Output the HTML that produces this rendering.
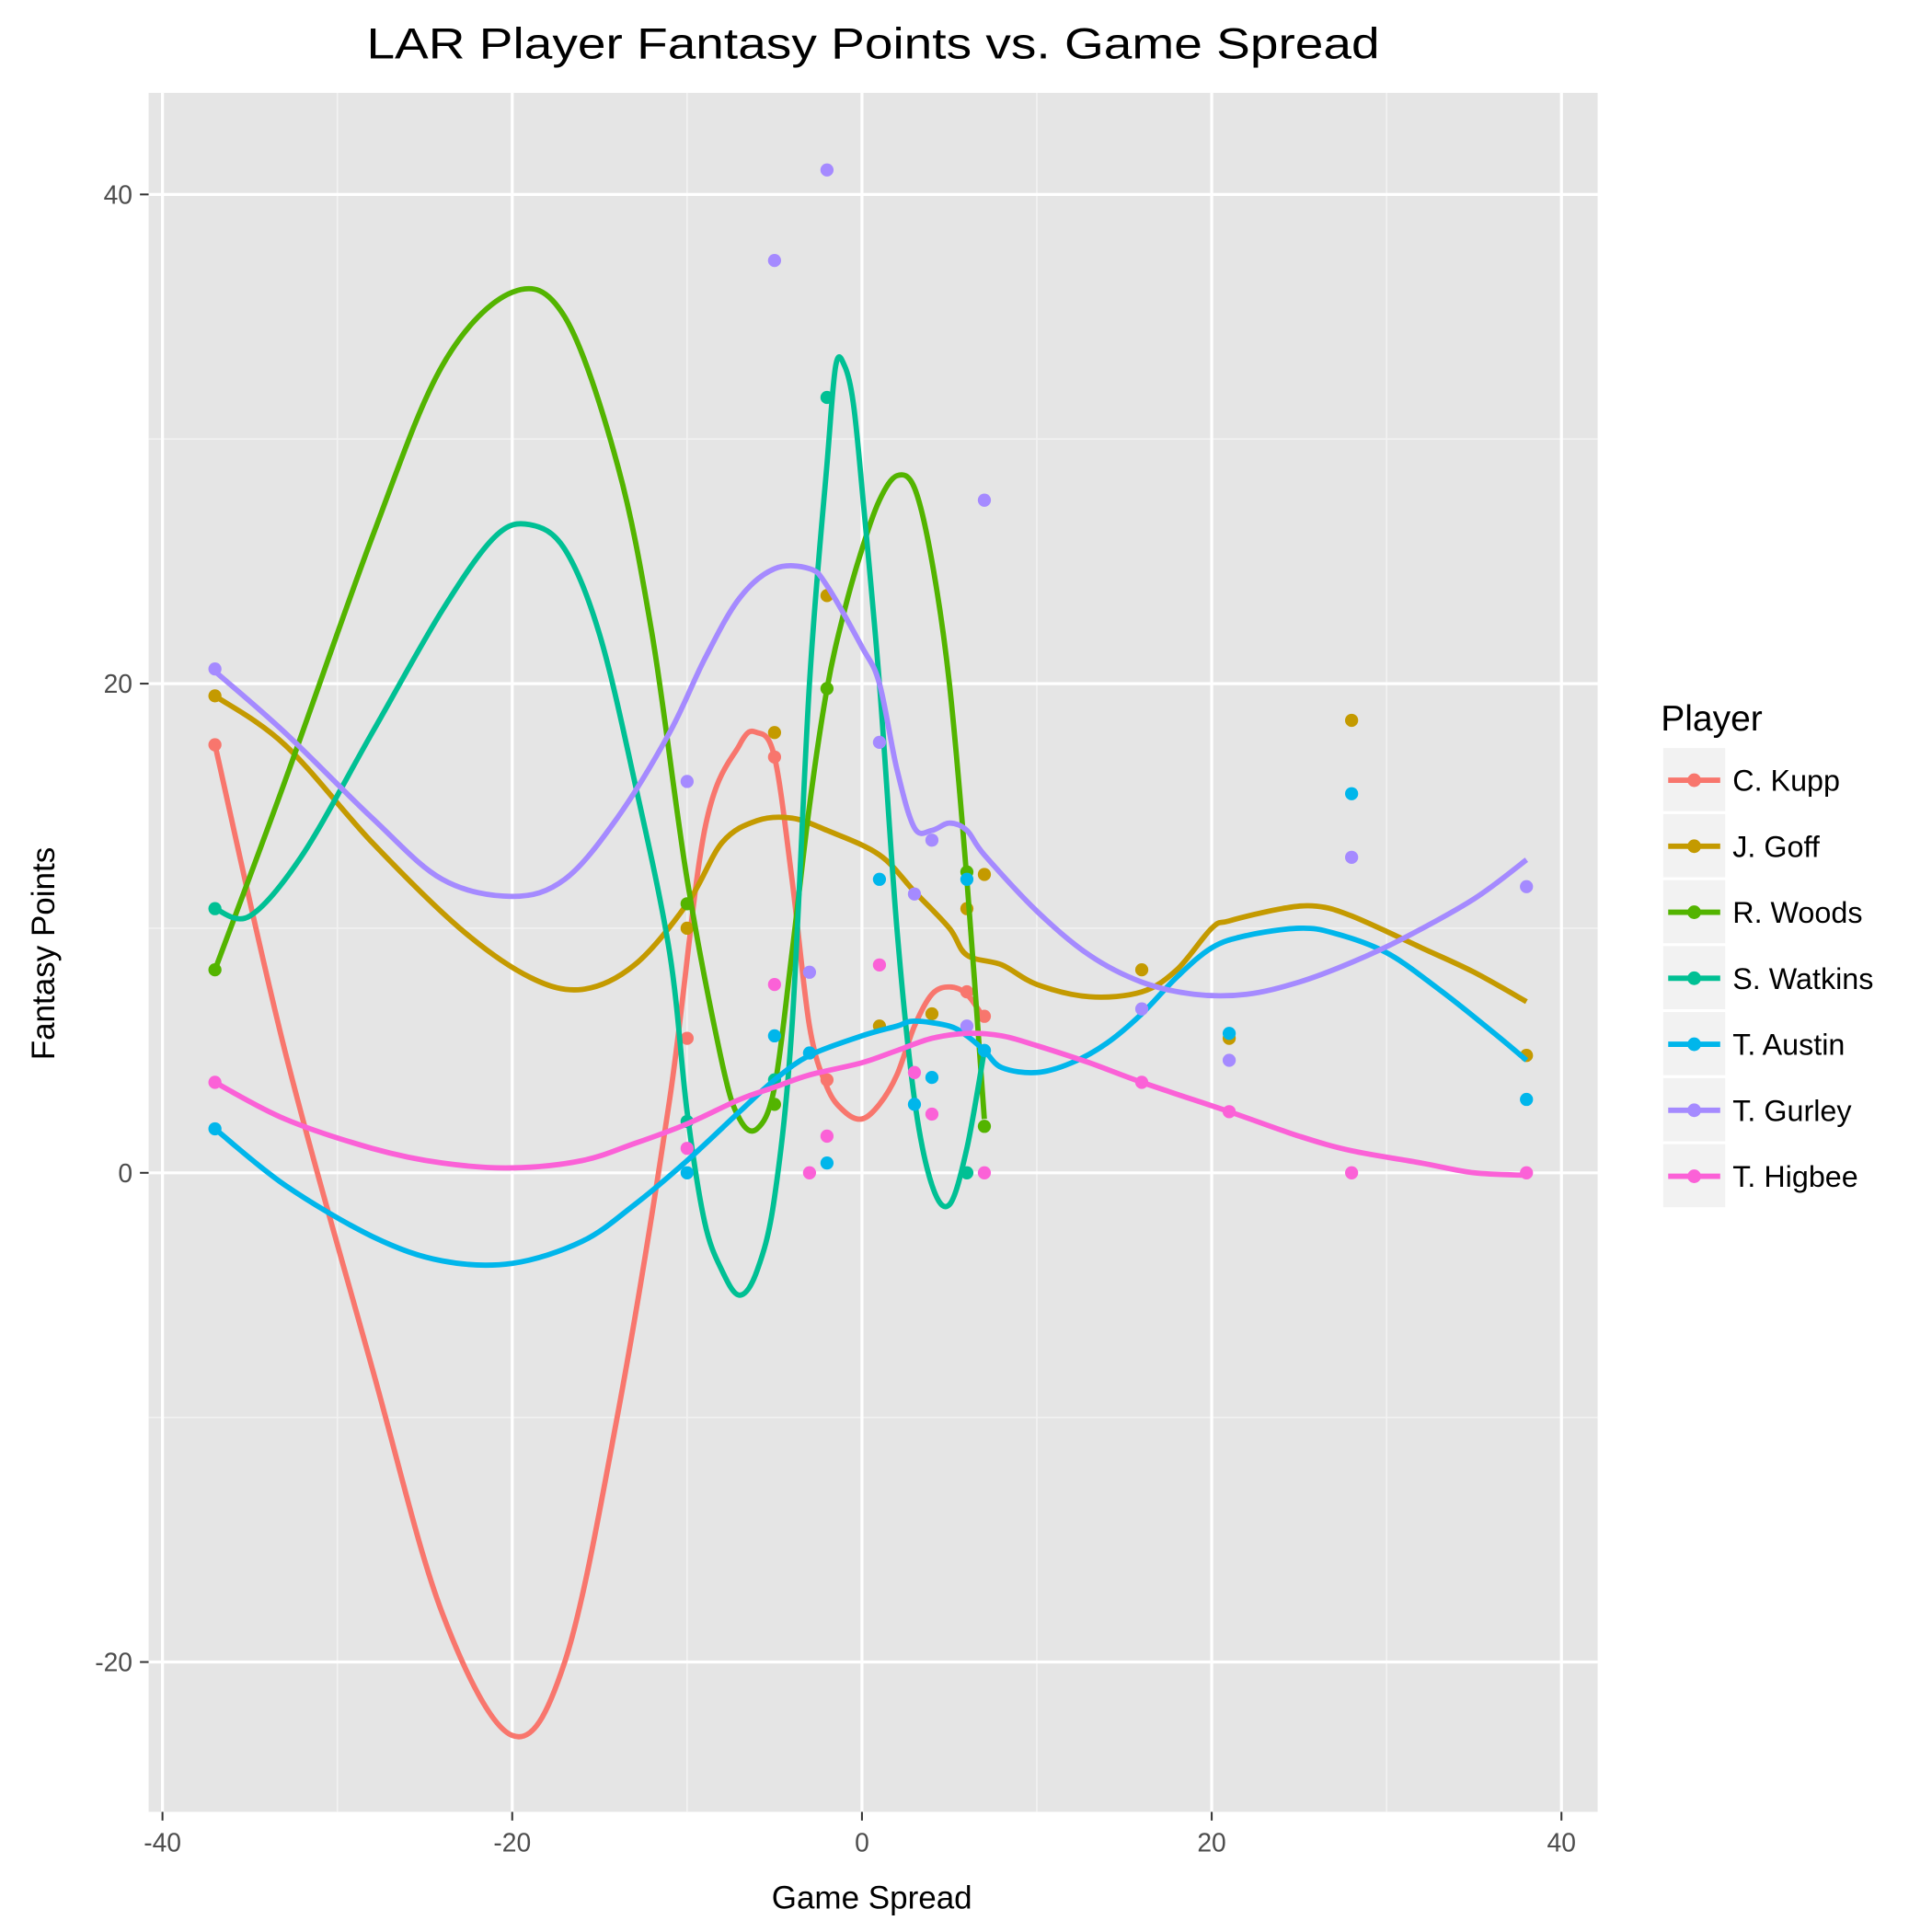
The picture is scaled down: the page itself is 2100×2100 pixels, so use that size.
<!DOCTYPE html>
<html><head><meta charset="utf-8"><style>
html,body{margin:0;padding:0;background:#fff;}
svg{display:block;font-family:"Liberation Sans",Arial,sans-serif;}
</style></head><body>
<svg id="chart" width="2100" height="2100" viewBox="0 0 1560 1560" xmlns="http://www.w3.org/2000/svg">
<rect x="0" y="0" width="1560" height="1560" fill="#fff"/>
<text x="296" y="47" font-size="35" textLength="818" lengthAdjust="spacingAndGlyphs" fill="#000">LAR Player Fantasy Points vs. Game Spread</text>
<rect x="120" y="75" width="1170" height="1388" fill="#e5e5e5"/>
<g id="grid"></g>
<g id="axes"></g>
<g id="series"></g>
<text x="704" y="1541" font-size="26" text-anchor="middle" fill="#000">Game Spread</text>
<text x="44" y="770" font-size="26" text-anchor="middle" fill="#000" transform="rotate(-90 44 770)">Fantasy Points</text>
<g id="legend"></g>
</svg>
<script>
const players = ["C. Kupp","J. Goff","R. Woods","S. Watkins","T. Austin","T. Gurley","T. Higbee"];
const colors = ["#F8766D","#C49A00","#53B400","#00C094","#00B6EB","#A58AFF","#FB61D7"];
const xTicks = [-40,-20,0,20,40];
const yTicks = [-20,0,20,40];
const xMinor = [-30,-10,10,30];
const yMinor = [-10,10,30];

const kuppX = [-37,-10,-5,-2,6,7];
const kuppY = [17.5,5.5,17,3.8,7.4,6.4];
const goffX = [-37,-10,-5,-2,1,4,6,7,16,21,28,38];
const goffY = [19.5,10,18,23.6,6,6.5,10.8,12.2,8.3,5.5,18.5,4.8];
const woodsX = [-37,-10,-5,-2,6,7];
const woodsY = [8.3,11,2.8,19.8,12.3,1.9];
const watkinsX = [-37,-10,-5,-2,6,7];
const watkinsY = [10.8,2.1,3.8,31.7,0,5];
const austinX = [-37,-10,-5,-3,-2,1,3,4,6,7,21,28,38];
const austinY = [1.8,0,5.6,4.9,0.4,12,2.8,3.9,12,5,5.7,15.5,3];
const gurleyX = [-37,-10,-5,-3,-2,1,3,4,6,7,16,21,28,38];
const gurleyY = [20.6,16,37.3,8.2,41,17.6,11.4,13.6,6,27.5,6.7,4.6,12.9,11.7];
const higbeeX = [-37,-10,-5,-3,-2,1,3,4,7,16,21,28,38];
const higbeeY = [3.7,1,7.7,0,1.5,8.5,4.1,2.4,0,3.7,2.5,0,0];

const kuppFitX = [-37,-33,-28,-24,-20,-17,-14,-11,-9,-7,-6,-5,-4,-3,-2,-1,0,1,2,3,4,5,6,7];
const kuppFitY = [17.5,5,-8,-18,-23,-20,-10,3,14,17.5,18,17,12,6,3.5,2.5,2.2,2.8,4,6,7.3,7.6,7.3,6.3];
const goffFitX = [-37,-33,-28,-23,-19,-16,-13,-10,-8,-6,-4,-2,1,3,5,6,8,10,13,16,18,20,21,24,26,28,32,35,38];
const goffFitY = [19.5,17.5,13.5,10,8,7.5,8.5,11,13.5,14.4,14.5,14,13,11.5,10,8.9,8.5,7.7,7.2,7.4,8.3,10,10.3,10.8,10.9,10.5,9.2,8.2,7];
const woodsFitX = [-37,-33,-28,-24,-20,-17,-14,-12,-10,-8,-7,-6,-5,-4,-3,-2,-1,0,1,2,3,4,5,6,7];
const woodsFitY = [8.3,16,26,33,36,35,29,22,12,4.5,2.2,1.8,3.5,9,15,19.8,23,25.5,27.5,28.5,28,25,20,12,2.2];
const watkinsFitX = [-37,-35,-32,-28,-24,-21,-19,-17,-15,-13,-11,-10,-9,-8,-7,-6,-5,-4,-3,-2,-1.5,-1,-0.5,0,1,2,3,4,5,6,7];
const watkinsFitY = [10.8,10.5,13,18,23,26,26.5,25.5,22,16,9,2.5,-2,-4,-5,-4,-1,6,20,29,33,33,31.5,28,20,10,3,-0.5,-1.3,1,5];
const austinFitX = [-37,-33,-28,-24,-20,-16,-13,-10,-7,-5,-3,0,2,3,5,6,7,8,10,12,14,16,18,20,22,25,27,30,33,36,38];
const austinFitY = [1.8,-0.5,-2.6,-3.6,-3.7,-2.8,-1.3,0.5,2.5,3.8,4.8,5.6,6,6.2,6,5.6,5,4.3,4.1,4.5,5.3,6.5,8,9.2,9.7,10,9.8,9,7.5,5.8,4.6];
const gurleyFitX = [-37,-33,-28,-24,-20,-17,-14,-11,-9,-7,-5,-3,-2,0,1,2,3,4,5,6,7,10,13,16,19,22,25,28,31,35,38];
const gurleyFitY = [20.5,18,14.5,12,11.3,12,14.5,18,21,23.5,24.7,24.7,24,21.5,20,16.5,14.1,14,14.3,14,13,10.7,8.9,7.8,7.3,7.3,7.8,8.6,9.6,11.2,12.8];
const higbeeFitX = [-37,-33,-28,-24,-20,-16,-13,-10,-7,-5,-3,0,2,4,6,8,10,13,16,21,25,28,32,35,38];
const higbeeFitY = [3.7,2.2,1,0.4,0.2,0.5,1.2,2,3,3.5,4,4.5,5,5.5,5.7,5.6,5.2,4.5,3.7,2.5,1.5,0.9,0.4,0,-0.1];

const ptsX = [kuppX,goffX,woodsX,watkinsX,austinX,gurleyX,higbeeX];
const ptsY = [kuppY,goffY,woodsY,watkinsY,austinY,gurleyY,higbeeY];
const fitX = [kuppFitX,goffFitX,woodsFitX,watkinsFitX,austinFitX,gurleyFitX,higbeeFitX];
const fitY = [kuppFitY,goffFitY,woodsFitY,watkinsFitY,austinFitY,gurleyFitY,higbeeFitY];

const NS = "http://www.w3.org/2000/svg";
function sx(v){ return 696 + v * 14.12; }
function sy(v){ return 947 - v * 19.75; }
function mk(tag, attrs, parent){
  const e = document.createElementNS(NS, tag);
  for (const k in attrs) e.setAttribute(k, attrs[k]);
  parent.appendChild(e);
  return e;
}
const grid = document.getElementById('grid');
xMinor.forEach(v => {
  const l = mk('line', {x1: sx(v), x2: sx(v), y1: 75, y2: 1463, stroke: '#f2f2f2', 'stroke-width': 1.2}, grid);
  
  
});
yMinor.forEach(v => {
  const l = mk('line', {x1: 120, x2: 1290, y1: sy(v), y2: sy(v), stroke: '#f2f2f2', 'stroke-width': 1.2}, grid);
  
  
});
xTicks.forEach(v => {
  const l = mk('line', {x1: sx(v), x2: sx(v), y1: 75, y2: 1463, stroke: '#fff', 'stroke-width': 2.4}, grid);
  
  
});
yTicks.forEach(v => {
  const l = mk('line', {x1: 120, x2: 1290, y1: sy(v), y2: sy(v), stroke: '#fff', 'stroke-width': 2.4}, grid);
  
  
});
const axes = document.getElementById('axes');
xTicks.forEach(v => {
  const t = mk('line', {x1: sx(v), x2: sx(v), y1: 1463, y2: 1470, stroke: '#333', 'stroke-width': 1.5}, axes);
  
  
  const tx = mk('text', {x: sx(v), y: 1495, 'font-size': 21, 'text-anchor': 'middle', fill: '#4d4d4d'}, axes);
  tx.textContent = String(v);
  
  
});
yTicks.forEach(v => {
  const t = mk('line', {x1: 113, x2: 120, y1: sy(v), y2: sy(v), stroke: '#333', 'stroke-width': 1.5}, axes);
  
  
  const tx = mk('text', {x: 107, y: sy(v) + 7.5, 'font-size': 21, 'text-anchor': 'end', fill: '#4d4d4d'}, axes);
  tx.textContent = String(v);
  
  
});
function spline(xs, ys){
  const p = xs.map((x, i) => [sx(x), sy(ys[i])]);
  let d = 'M' + p[0][0].toFixed(1) + ',' + p[0][1].toFixed(1);
  for (let i = 0; i < p.length - 1; i++) {
    const p0 = p[Math.max(0, i - 1)], p1 = p[i], p2 = p[i + 1], p3 = p[Math.min(p.length - 1, i + 2)];
    const c1 = [p1[0] + (p2[0] - p0[0]) / 6, p1[1] + (p2[1] - p0[1]) / 6];
    const c2 = [p2[0] - (p3[0] - p1[0]) / 6, p2[1] - (p3[1] - p1[1]) / 6];
    d += ' C' + c1[0].toFixed(1) + ',' + c1[1].toFixed(1) + ' ' + c2[0].toFixed(1) + ',' + c2[1].toFixed(1) + ' ' + p2[0].toFixed(1) + ',' + p2[1].toFixed(1);
  }
  return d;
}
const series = document.getElementById('series');
players.forEach((name, i) => {
  const slug = name.toLowerCase().replace(/[^a-z]+/g, '-');
  const g = mk('g', {}, series);
  
  
  ptsX[i].forEach((x, j) => {
    const c = mk('circle', {cx: sx(x), cy: sy(ptsY[i][j]), r: 5.3, fill: colors[i]}, g);
    
    
  });
  const path = mk('path', {d: spline(fitX[i], fitY[i]), fill: 'none', stroke: colors[i], 'stroke-width': 4.3, 'stroke-linejoin': 'round'}, g);
  
  
});
const legend = document.getElementById('legend');
const lt = mk('text', {x: 1341, y: 590, 'font-size': 29, fill: '#000'}, legend);
lt.textContent = 'Player';


players.forEach((name, i) => {
  const cy = 630 + i * 53.3;
  const g = mk('g', {}, legend);
  
  
  mk('rect', {x: 1343, y: cy - 26, width: 50, height: 51, fill: '#f2f2f2'}, g);
  mk('line', {x1: 1347, x2: 1389, y1: cy, y2: cy, stroke: colors[i], 'stroke-width': 4.3}, g);
  mk('circle', {cx: 1368, cy: cy, r: 5.5, fill: colors[i]}, g);
  const t = mk('text', {x: 1399, y: cy + 8.5, 'font-size': 24, fill: '#000'}, g);
  t.textContent = name;
  
  
});
</script>
</body></html>
